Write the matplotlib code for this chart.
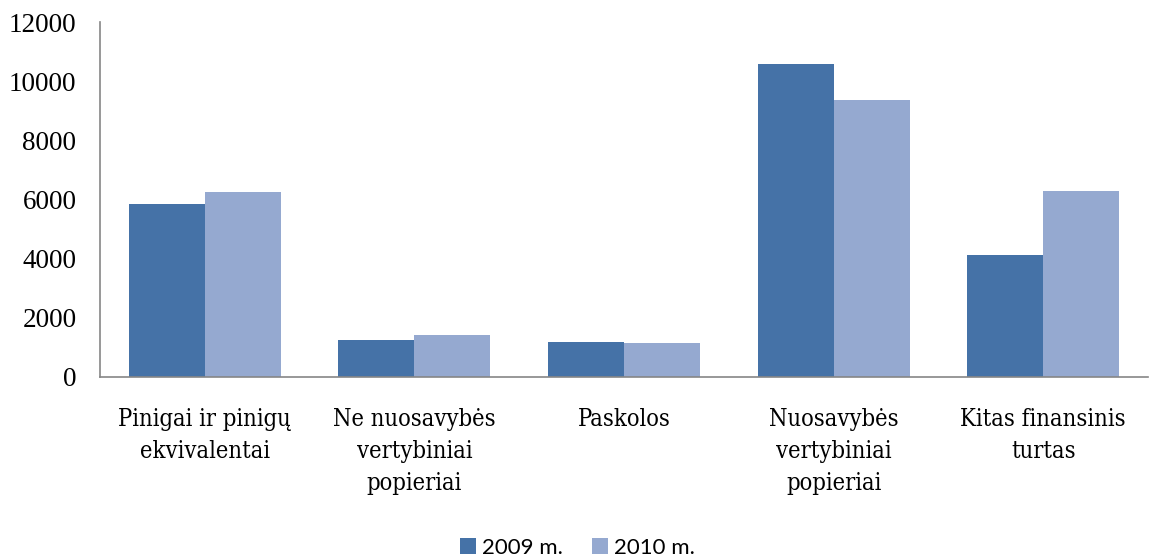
import numpy as np
from matplotlib import pyplot as plt
from matplotlib import font_manager

categories = ['Pinigai ir pinigų\nekvivalentai', 'Ne nuosavybės\nvertybiniai\npopieriai',
              'Paskolos', 'Nuosavybės\nvertybiniai\npopieriai', 'Kitas finansinis\nturtas']
y2009 = [5840, 1250, 1190, 10580, 4120]
y2010 = [6260, 1410, 1140, 9380, 6290]
yticks = [0, 2000, 4000, 6000, 8000, 10000, 12000]

# narrow serif for category labels if one is around
cond = font_manager.FontProperties(family='DejaVu Serif', stretch='condensed', size=17)
if 'Condensed' in font_manager.findfont(cond):
    cat_font = cond
else:
    cat_font = font_manager.FontProperties(family='Liberation Serif', size=15)

fig = plt.figure(figsize=(11.55, 5.59), dpi=100)
ax = fig.add_axes([0.0866, 0.3256, 0.9074, 0.635])

x = np.arange(len(categories))
w = 0.3626
ax.bar(x - w / 2, y2009, w, color='#4572A7', label='2009 m.')
ax.bar(x + w / 2, y2010, w, color='#95A9D0', label='2010 m.')

ax.set_xlim(-0.5, len(categories) - 0.5)
ax.set_ylim(0, 12000)
ax.set_yticks(yticks)
ax.set_yticklabels([str(v) for v in yticks], fontfamily='Liberation Serif', fontsize=19.5)
ax.tick_params(axis='y', length=0, pad=17)
ax.set_xticks(x)
ax.set_xticklabels(categories, fontproperties=cat_font, linespacing=1.5)
ax.tick_params(axis='x', length=0, pad=22)

for s in ['top', 'right']:
    ax.spines[s].set_visible(False)
ax.spines['left'].set_color('#868686')
ax.spines['bottom'].set_color('#868686')
ax.spines['left'].set_linewidth(1.2)
ax.spines['bottom'].set_linewidth(1.2)

fig.legend(loc='center', bbox_to_anchor=(0.5, 1 - 548 / 559), ncol=2, frameon=False,
           prop={'family': 'Lato', 'size': 16}, handlelength=0.7, handleheight=0.7,
           handletextpad=0.3, columnspacing=1.3)

plt.savefig('out.png', dpi=100)
